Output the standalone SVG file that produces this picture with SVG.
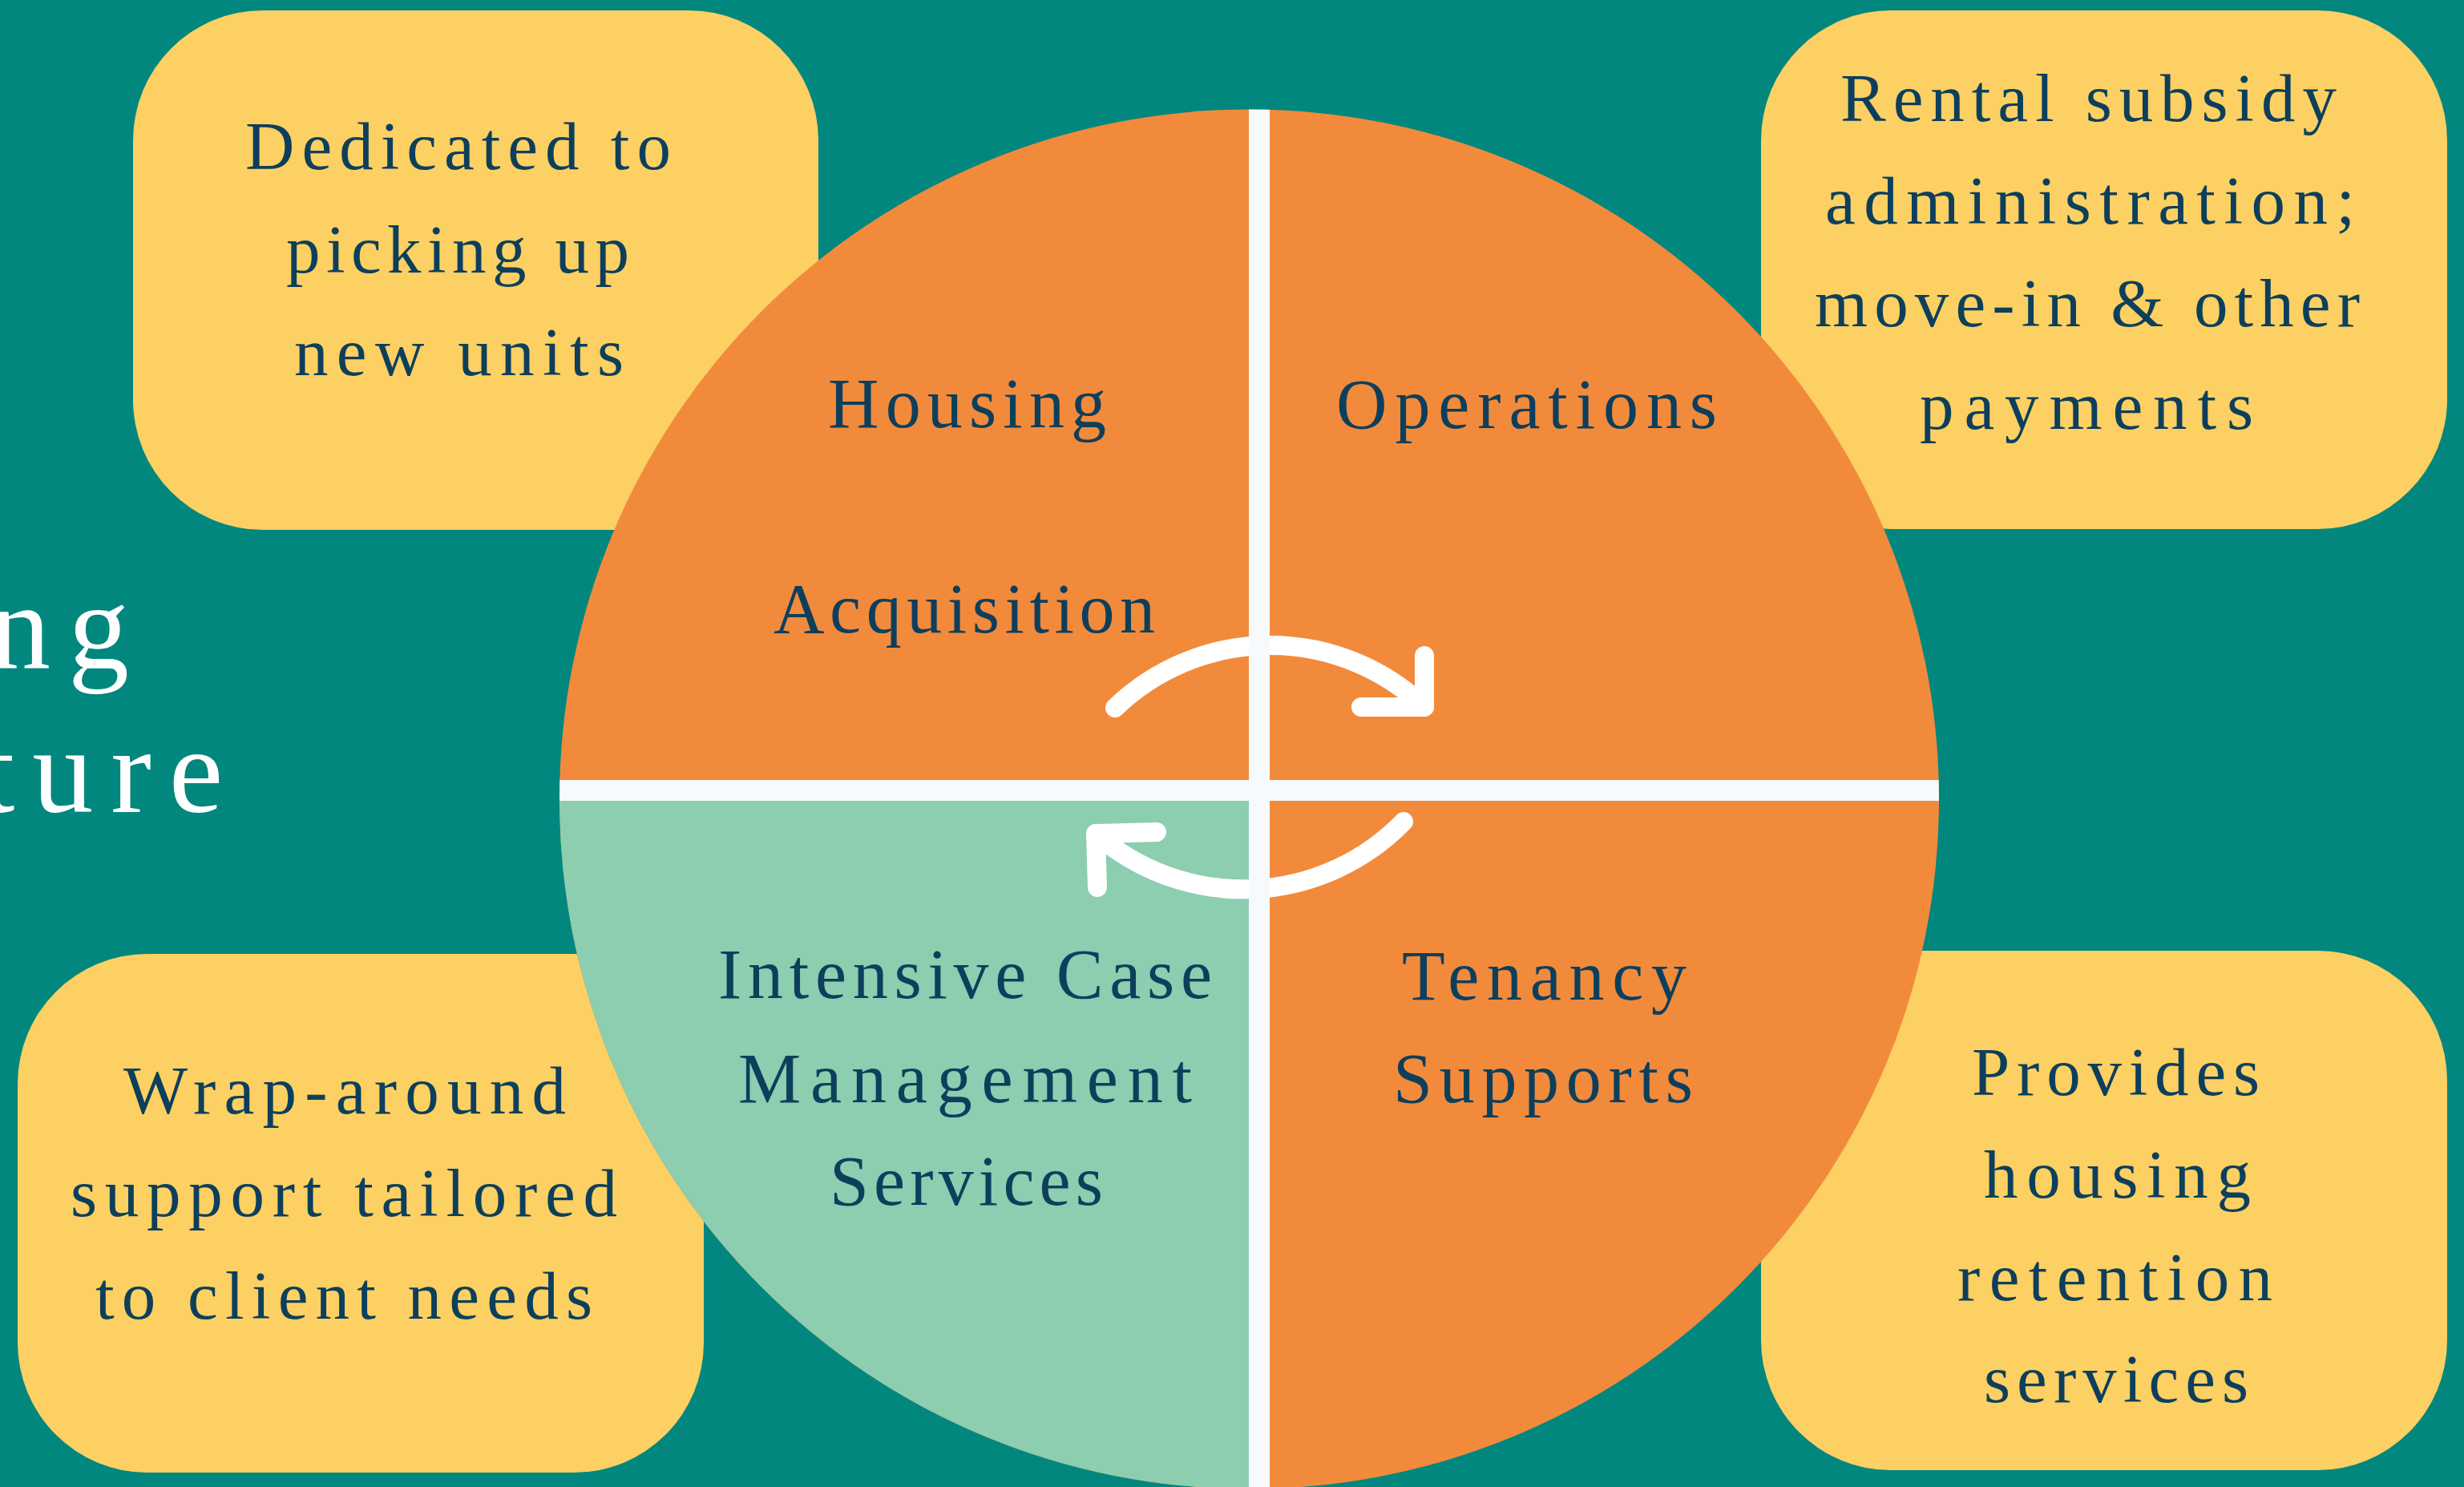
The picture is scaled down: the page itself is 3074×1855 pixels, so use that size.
<svg xmlns="http://www.w3.org/2000/svg" width="3074" height="1855" viewBox="0 0 3074 1855">
<defs>
<style>
.box{fill:#FCD062}
.bt{font-family:"Liberation Serif","Times New Roman",serif;font-size:85px;fill:#0D3F5C}
.ct{font-family:"Liberation Serif","Times New Roman",serif;font-size:88px;fill:#0D3F5C}
.title{font-family:"Liberation Serif","Times New Roman",serif;font-size:152px;fill:#FFFFFF;letter-spacing:22px}
.arr{fill:none;stroke:#FFFFFF;stroke-width:24;stroke-linecap:round;stroke-linejoin:round}
.sep{fill:#F6FAFD}
</style>
<clipPath id="circ"><circle cx="1558.5" cy="997" r="860.5"/></clipPath>
</defs>
<rect x="0" y="0" width="3074" height="1855" fill="#01877E"/>
<g id="title">
<text class="title" x="-13" y="833">ng</text>
<text class="title" x="-24" y="1013">ture</text>
</g>
<g id="box-top-left">
<rect class="box" x="166" y="13" width="855" height="648" rx="162" ry="162"/>
<text class="bt" x="306" y="211" textLength="531" lengthAdjust="spacing">Dedicated to</text>
<text class="bt" x="357" y="340" textLength="428" lengthAdjust="spacing">picking up</text>
<text class="bt" x="367" y="468" textLength="411" lengthAdjust="spacing">new units</text>
</g>
<g id="box-top-right">
<rect class="box" x="2197" y="13" width="856" height="647" rx="162" ry="162"/>
<text class="bt" x="2296" y="151" textLength="619" lengthAdjust="spacing">Rental subsidy</text>
<text class="bt" x="2277" y="279" textLength="661" lengthAdjust="spacing">administration;</text>
<text class="bt" x="2264" y="407" textLength="680" lengthAdjust="spacing">move-in &amp; other</text>
<text class="bt" x="2395" y="535" textLength="416" lengthAdjust="spacing">payments</text>
</g>
<g id="box-bottom-left">
<rect class="box" x="22" y="1190" width="856" height="647" rx="162" ry="162"/>
<text class="bt" x="154" y="1389" textLength="552" lengthAdjust="spacing">Wrap-around</text>
<text class="bt" x="88" y="1517" textLength="682" lengthAdjust="spacing">support tailored</text>
<text class="bt" x="119" y="1645" textLength="620" lengthAdjust="spacing">to client needs</text>
</g>
<g id="box-bottom-right">
<rect class="box" x="2197" y="1186" width="856" height="648" rx="162" ry="162"/>
<text class="bt" x="2460" y="1366" textLength="359" lengthAdjust="spacing">Provides</text>
<text class="bt" x="2475" y="1494" textLength="333" lengthAdjust="spacing">housing</text>
<text class="bt" x="2442" y="1622" textLength="393" lengthAdjust="spacing">retention</text>
<text class="bt" x="2475" y="1749" textLength="330" lengthAdjust="spacing">services</text>
</g>
<g id="cycle">
<circle cx="1558.5" cy="997" r="860.5" fill="#F28A3C"/>
<rect x="690" y="986" width="881" height="880" fill="#8DCDB0" clip-path="url(#circ)"/>
</g>
<g id="connectors">
<path class="arr" d="M1391,883 A279,279 0 0 1 1777,882"/>
<path class="arr" d="M1698,882 L1777,882 L1777,818"/>
<path class="arr" d="M1751,1025 A279,279 0 0 1 1367,1040"/>
<path class="arr" d="M1443,1038 L1367,1040 L1369,1107"/>
</g>
<g id="dividers" clip-path="url(#circ)">
<rect class="sep" x="1558" y="130" width="26" height="1730"/>
<rect class="sep" x="690" y="973" width="1740" height="26"/>
</g>
<g id="q-housing">
<text class="ct" x="1033" y="533" textLength="347" lengthAdjust="spacing">Housing</text>
<text class="ct" x="965" y="789" textLength="476" lengthAdjust="spacing">Acquisition</text>
</g>
<g id="q-operations">
<text class="ct" x="1667" y="534" textLength="475" lengthAdjust="spacing">Operations</text>
</g>
<g id="q-case">
<text class="ct" x="896" y="1245" textLength="616" lengthAdjust="spacing">Intensive Case</text>
<text class="ct" x="921" y="1375" textLength="566" lengthAdjust="spacing">Management</text>
<text class="ct" x="1035" y="1503" textLength="341" lengthAdjust="spacing">Services</text>
</g>
<g id="q-tenancy">
<text class="ct" x="1749" y="1247" textLength="355" lengthAdjust="spacing">Tenancy</text>
<text class="ct" x="1738" y="1375" textLength="374" lengthAdjust="spacing">Supports</text>
</g>
</svg>
